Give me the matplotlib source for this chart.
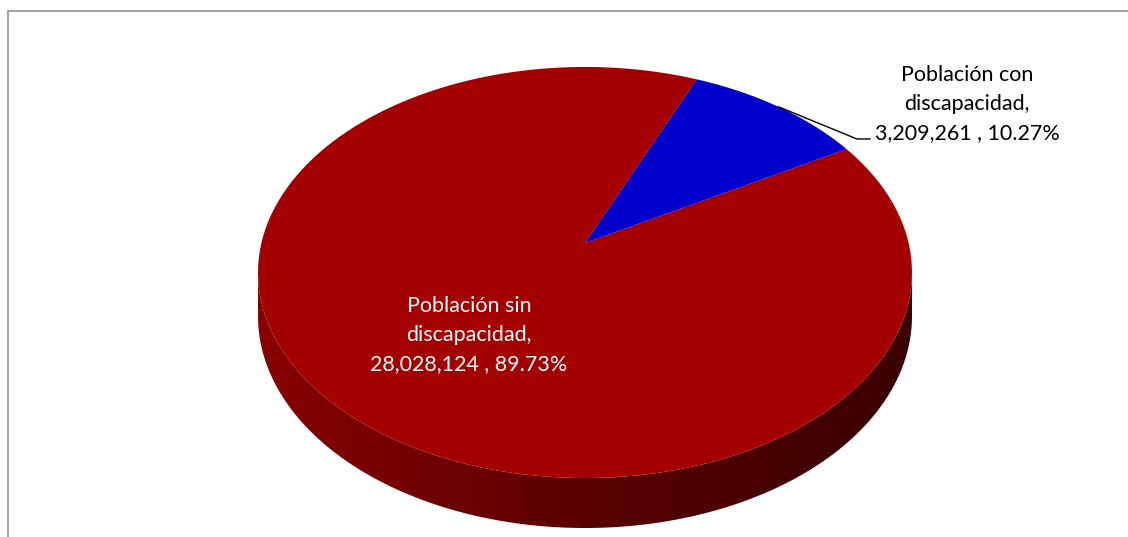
import numpy as np
import matplotlib.pyplot as plt
from matplotlib.patches import Polygon
from matplotlib.colors import LinearSegmentedColormap


categorias = ['Población sin\ndiscapacidad', 'Población con\ndiscapacidad']
poblacion = [28028124, 3209261]
colores = ['#A50000', '#0000CC']
inicio = 60  # grados, sentido horario desde las 12

# geometria del pastel 3D (pixeles)
CX, CY = 585, 243
A, B, K = 323.6, 201.3, 0.1435
GROSOR = 42.8


def proy(ang, prof=0.0):
    t = np.radians(ang)
    u, v = np.sin(t), np.cos(t)
    w = 1 + K * v
    return CX + A * u / w, CY - B * v / w + prof / w


plt.rcParams['font.family'] = ['Lato', 'DejaVu Sans']
fig = plt.figure(figsize=(11.28, 5.37), dpi=100)
ax = fig.add_axes([0, 0, 1, 1])
ax.set_xlim(0, 1128)
ax.set_ylim(537, 0)
ax.axis('off')

# lado frontal con degradado
t_sil = np.degrees(np.arccos(-K))
angs = np.linspace(t_sil, 360 - t_sil, 300)
xs_top, ys_top = proy(angs)
xs_bot, ys_bot = proy(angs[::-1], GROSOR)
lado = Polygon(np.column_stack([np.r_[xs_top, xs_bot], np.r_[ys_top, ys_bot]]),
               closed=True, facecolor='none', edgecolor='none')
ax.add_patch(lado)
cmap = LinearSegmentedColormap.from_list('lado', ['#880000', '#5a0000', '#3a0000'])
grad = np.linspace(0, 1, 256).reshape(1, -1)
im = ax.imshow(grad, cmap=cmap, aspect='auto',
               extent=[xs_top.min(), xs_top.max(), 537, 0], zorder=1)
im.set_clip_path(lado)

# caras superiores
total = sum(poblacion)
a0 = inicio
medios = []
for val, col in zip(poblacion, colores):
    span = 360 * val / total
    arc = np.linspace(a0, a0 + span, 200)
    xa, ya = proy(arc)
    pts = np.column_stack([np.r_[CX, xa], np.r_[CY, ya]])
    ax.add_patch(Polygon(pts, closed=True, facecolor=col, edgecolor='none', zorder=2))
    medios.append(a0 + span / 2)
    a0 += span

etiquetas = ['{},\n{:,} , {:.2f}%'.format(c, v, 100 * v / total)
             for c, v in zip(categorias, poblacion)]

# etiqueta interior
ax.text(469, 335, etiquetas[0], color='white', fontsize=15.5, ha='center', va='center',
        multialignment='center', linespacing=1.55, zorder=3)

# etiqueta exterior con linea guia
x0, y0 = proy(medios[1])
ax.plot([x0, 857, 870], [y0, 139, 139], color='black', lw=1, zorder=3)
ax.text(967, 104, etiquetas[1], color='black', fontsize=15.5, ha='center', va='center',
        multialignment='center', linespacing=1.55, zorder=3)

# borde del area
ax.plot([8, 8, 1128], [537, 11, 11], color='#A6A6A6', lw=1.5, zorder=4)

fig.savefig('out.png', dpi=100)
